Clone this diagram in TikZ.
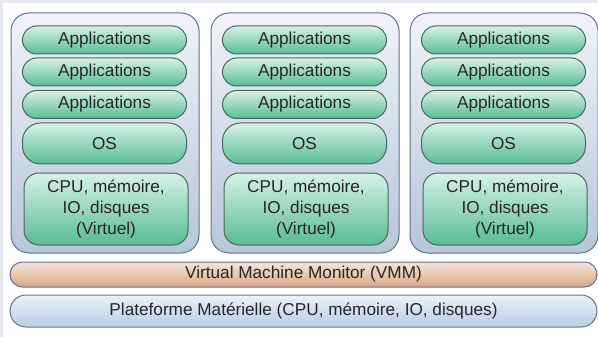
\documentclass[tikz,border=0pt]{standalone}
\usepackage{fontspec}
\setmainfont{Liberation Sans}
\usetikzlibrary{shadings}
\definecolor{bgband}{HTML}{E6E8F2}
\definecolor{contTop}{HTML}{F1F3F9}
\definecolor{contBot}{HTML}{B6C6D9}
\definecolor{contLine}{HTML}{62738A}
\definecolor{grTop}{HTML}{D6F2E7}
\definecolor{grBot}{HTML}{58BC94}
\definecolor{grLine}{HTML}{4C665F}
\definecolor{vmmTop}{HTML}{F7E5D8}
\definecolor{vmmBot}{HTML}{D8A887}
\definecolor{platTop}{HTML}{ECF2F9}
\definecolor{platBot}{HTML}{B8CCE1}
\begin{document}
\begin{tikzpicture}[x=1pt,y=-1pt,
  base/.style={rectangle,inner sep=0pt,outer sep=0pt,line width=1pt,
    font=\fontsize{17.2}{21}\selectfont,align=center,text=black!85},
  container/.style={base,draw=contLine,top color=contTop,bottom color=contBot,
    rounded corners=18pt,minimum width=188pt,minimum height=240pt},
  greenbox/.style={base,draw=grLine,top color=grTop,bottom color=grBot,
    minimum width=164pt},
  appbox/.style={greenbox,rounded corners=14pt,minimum height=28pt},
  osbox/.style={greenbox,rounded corners=18pt,minimum height=41pt},
  cpubox/.style={greenbox,rounded corners=15pt,minimum height=72pt},
  vmmbox/.style={base,draw=contLine,top color=vmmTop,bottom color=vmmBot,
    rounded corners=12.5pt,minimum width=587pt,minimum height=25pt},
  platbox/.style={base,draw=contLine,top color=platTop,bottom color=platBot,
    rounded corners=16pt,minimum width=587pt,minimum height=32pt}]
\useasboundingbox (0,0) rectangle (598,337);
\fill[white] (0,0) rectangle (598,337);
\fill[bgband] (0,0) rectangle (598,3.5);
\fill[bgband] (0,0) rectangle (3,337);
\foreach \i/\cx in {1/105,2/305,3/504}{
  \node[container] (c\i) at (\cx,133) {};
  \node[appbox] (a\i1) at (\cx-0.5,40) {Applications};
  \node[appbox] (a\i2) at (\cx-0.5,72) {Applications};
  \node[appbox] (a\i3) at (\cx-0.5,104.5) {Applications};
  \node[osbox] (os\i) at (\cx-0.5,143.5) {OS};
  \node[cpubox] (cpu\i) at (\cx+1,209) {CPU, mémoire,\\IO, disques\\(Virtuel)};
}
\node[vmmbox] (vmm) at (303.5,274.5) {Virtual Machine Monitor (VMM)};
\node[platbox] (plat) at (303.5,311) {Plateforme Matérielle (CPU, mémoire, IO, disques)};
\end{tikzpicture}
\end{document}
